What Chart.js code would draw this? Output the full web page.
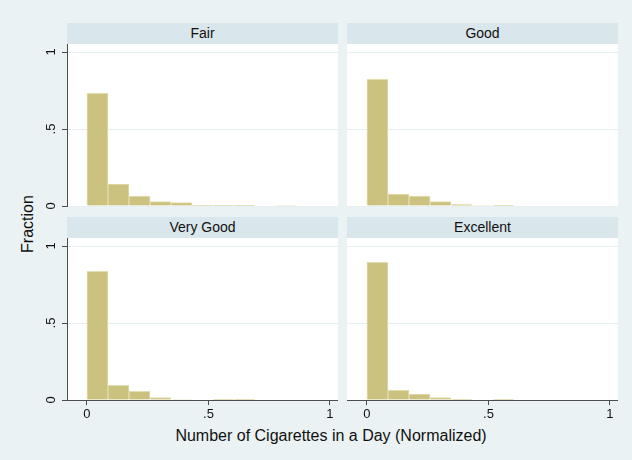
<!DOCTYPE html>
<html>
<head>
<meta charset="utf-8">
<script src="https://cdn.jsdelivr.net/npm/chart.js@4.4.1/dist/chart.umd.min.js"></script>
<style>
  body { margin: 0; background: #eaf2f3; }
  #graph { position: relative; width: 632px; height: 460px; background: #eaf2f3; font-family: "Liberation Sans", Arial, sans-serif; }
  .panel { position: absolute; }
  .strip { position: absolute; height: 21px; line-height: 21px; background: #d9e6eb; text-align: center; font-size: 14px; color: #111; }
  .title-x { position: absolute; left: 81px; width: 500px; top: 427px; text-align: center; font-size: 16px; color: #111; }
  .title-y { position: absolute; left: -22px; top: 215px; width: 100px; text-align: center; font-size: 16px; line-height: 18px; color: #111; transform: rotate(-90deg); }
</style>
</head>
<body>
<div id="graph">
  <div class="panel" style="left:37px; top:44px; width:301px; height:184px;"><canvas id="fair"></canvas></div>
  <div class="panel" style="left:347px; top:44px; width:271px; height:184px;"><canvas id="good"></canvas></div>
  <div class="strip" style="left:67px; top:23px; width:271px;">Fair</div>
  <div class="strip" style="left:347px; top:23px; width:271px;">Good</div>
  <div class="strip" style="left:67px; top:217px; width:271px;">Very Good</div>
  <div class="strip" style="left:347px; top:217px; width:271px;">Excellent</div>
  <div class="panel" style="left:37px; top:238px; width:301px; height:184px;"><canvas id="verygood"></canvas></div>
  <div class="panel" style="left:347px; top:238px; width:271px; height:184px;"><canvas id="excellent"></canvas></div>
  <div class="title-x">Number of Cigarettes in a Day (Normalized)</div>
  <div class="title-y">Fraction</div>
</div>
<script>
// histogram bins (left edges), shared by all panels
const binWidth = 0.0865;
const binEdges = [0, 0.0865, 0.173, 0.2595, 0.346, 0.4325, 0.519, 0.6055, 0.692, 0.7785];

// fraction of people per bin, one list per health group
const fairValues = [0.732, 0.143, 0.065, 0.028, 0.022, 0.006, 0.004, 0.002, null, 0.003];
const goodValues = [0.823, 0.078, 0.065, 0.028, 0.009, 0.003, 0.002, null, null, null];
const veryGoodValues = [0.836, 0.095, 0.056, 0.015, 0.003, null, 0.001, 0.001, null, null];
const excellentValues = [0.894, 0.063, 0.039, 0.015, 0.006, null, 0.001, null, null, null];

const tickValues = [0, 0.5, 1];
const tickLabels = ["0", ".5", "1"];

const barFill = "#cbc27f";
const barLine = "#e2ddb0";
const axisColor = "#4d4d4d";
const gridColor = "#e6eff1";
const hidden = "rgba(0,0,0,0)";
const fontFamily = "'Liberation Sans', Arial, sans-serif";

// white plot region behind the bars
const plotBackground = {
  id: "plotBackground",
  beforeDraw(chart) {
    const { ctx, chartArea } = chart;
    ctx.save();
    ctx.fillStyle = "#ffffff";
    ctx.fillRect(chartArea.left, chartArea.top, chartArea.right - chartArea.left, chartArea.bottom - chartArea.top);
    ctx.restore();
  },
};

function setTicks(scale) {
  scale.ticks = tickValues.map((v) => ({ value: v }));
}

function makePanel(id, values, showY, showX) {
  const points = values.map((v, i) => ({ x: binEdges[i] + binWidth / 2, y: v }));
  return new Chart(document.getElementById(id), {
    type: "bar",
    data: {
      datasets: [
        {
          data: points,
          backgroundColor: barFill,
          borderColor: barLine,
          borderWidth: 1,
          borderSkipped: "start",
          barPercentage: 1,
          categoryPercentage: 1,
        },
      ],
    },
    plugins: [plotBackground],
    options: {
      responsive: true,
      maintainAspectRatio: false,
      animation: false,
      layout: { padding: 0 },
      plugins: { legend: { display: false }, tooltip: { enabled: false } },
      scales: {
        x: {
          type: "linear",
          min: -0.082,
          max: 1.033,
          offset: false,
          afterBuildTicks: setTicks,
          afterFit(scale) {
            // same room under every panel; the top row draws it see-through
            scale.height = 22;
            scale.paddingLeft = 0;
            scale.paddingRight = 0;
          },
          grid: {
            offset: false,
            drawOnChartArea: false,
            drawTicks: true,
            tickLength: 5,
            tickColor: showX ? axisColor : hidden,
          },
          border: { display: true, color: showX ? axisColor : hidden, width: 1 },
          ticks: {
            autoSkip: false,
            padding: 2,
            color: showX ? "#111" : hidden,
            font: { family: fontFamily, size: 13 },
            maxRotation: 0,
            callback: (v) => tickLabels[tickValues.indexOf(v)],
          },
        },
        y: {
          type: "linear",
          min: 0,
          max: 1.052,
          afterBuildTicks: setTicks,
          afterFit(scale) {
            scale.width = showY ? 30 : 0;
            scale.paddingTop = 0;
            scale.paddingBottom = 0;
          },
          grid: {
            color: gridColor,
            lineWidth: 1,
            drawTicks: showY,
            tickLength: 5,
            tickColor: axisColor,
          },
          border: { display: showY, color: axisColor, width: 1 },
          ticks: {
            display: showY,
            autoSkip: false,
            padding: 5,
            crossAlign: "center",
            minRotation: 90,
            maxRotation: 90,
            color: "#111",
            font: { family: fontFamily, size: 13 },
            callback: (v) => tickLabels[tickValues.indexOf(v)],
          },
        },
      },
    },
  });
}

makePanel("fair", fairValues, true, false);
makePanel("good", goodValues, false, false);
makePanel("verygood", veryGoodValues, true, true);
makePanel("excellent", excellentValues, false, true);
</script>
</body>
</html>
